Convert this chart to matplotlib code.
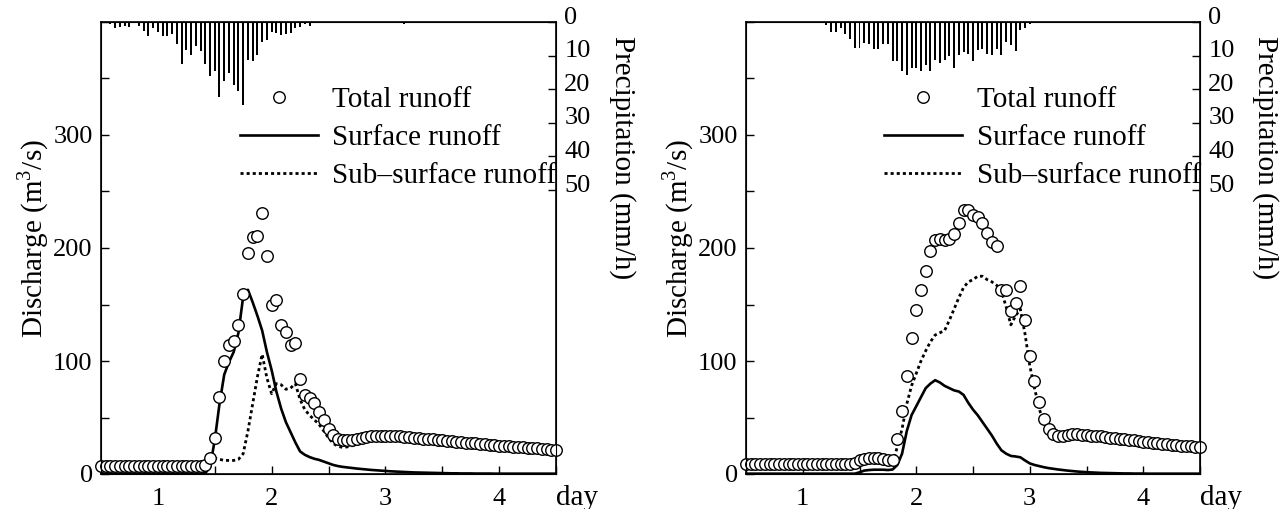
"""Two-event runoff separation plot: total runoff (circles), surface and
sub-surface runoff (lines), hourly rainfall hanging from the top axis."""
import matplotlib
matplotlib.use("Agg")
import matplotlib.pyplot as plt
import matplotlib.transforms as mtransforms
from matplotlib.lines import Line2D
from matplotlib.ticker import MultipleLocator
import numpy as np

plt.rcParams["font.family"] = ["Liberation Serif", "DejaVu Serif"]
plt.rcParams["mathtext.fontset"] = "custom"
plt.rcParams["mathtext.rm"] = "Liberation Serif"
FS_TICK = 19
FS_TEXT = 21

# hourly time axis (hours from start of day 0)
hours = np.arange(12, 109)

# ---- event A (left panel) ----
total_a = ([7.5] * 22 +
           [8, 14, 32, 68, 100, 114, 118, 132, 159, 196, 210, 211, 231, 193,
            150, 154, 132, 126, 114, 116, 84, 70, 67.5, 62.5, 55, 48, 40, 34.5] +
           [31, 30, 30, 30.5, 31, 32, 33, 33.5, 34, 34,
            34, 34, 33.7, 33.3, 33, 32.6, 32.2, 31.8, 31.4, 31,
            30.6, 30.2, 29.8, 29.4, 29, 28.6, 28.2, 27.8, 27.4, 27,
            26.6, 26.2, 25.9, 25.6, 25.2, 24.8, 24.5, 24.2, 23.9, 23.6,
            23.3, 23.0, 22.6, 22.2, 21.8, 21.4, 21.0])
surface_a = ([0.3] * 22 +
             [0.8, 6, 30, 62, 88, 99, 108, 125, 157, 163, 152, 140, 127, 108,
              92, 73, 58, 46, 37, 28, 20, 17, 15, 13.5, 12.5, 11, 9.5, 8] +
             [7, 6.3, 5.8, 5.3, 4.8, 4.4, 4, 3.6, 3.3, 3,
              2.7, 2.4, 2.2, 2, 1.8, 1.6, 1.4, 1.3, 1.2, 1.1,
              1, 0.9, 0.8, 0.7, 0.6, 0.6, 0.5, 0.5, 0.5, 0.4,
              0.4, 0.4, 0.4] + [0.3] * 14)
sub_a = ([7.2] * 23 +
         [9, 14, 13, 12, 12, 12, 13, 18, 38, 62, 86, 106, 85, 71,
          80, 79, 75, 76, 80, 66, 57, 52, 48, 44, 38, 32, 27] +
         [24.5, 23.5, 24, 25, 26.5, 28, 29.5, 30.5, 31, 31.3,
          31.5, 31.3, 31.3, 31, 30.7, 30.4, 30.1, 29.7, 29.3, 28.9,
          28.8, 28.5, 28.2, 27.9, 27.6, 27.2, 26.9, 26.5, 26.1, 25.8,
          25.5, 25.2, 24.8, 24.5, 24.2, 23.9, 23.6, 23.3, 23, 22.7,
          22.4, 22.1, 21.8, 21.5, 21.2, 20.9, 20.7])
rain_hours_a = list(range(13, 57)) + [76]
rain_a = [0.3, 0.7, 1.7, 1.4, 1.1, 1.4, 0.2, 1.1, 2.6, 4.1, 1.7, 3.1, 4.1, 4.3,
          3.5, 6.5, 12.5, 8.3, 9.8, 7.2, 8.7, 12.6, 16.1, 14.6, 22.3, 17.5,
          15.1, 18.6, 20.6, 24.6, 11.2, 11.6, 9.9, 5.9, 5.4, 3.1, 3.4, 3.9,
          3.5, 3.4, 1.9, 1.4, 0.7, 1.2, 0.5]

# ---- event B (right panel) ----
total_b = ([8.5] * 22 +
           [9, 10, 12, 13, 14, 14, 14, 13, 12.5, 12.5, 31, 56, 87, 120, 145,
            163, 180, 197, 207, 208, 207, 208, 212, 222, 234, 234, 229, 227,
            222, 213, 205, 202, 163, 163, 144, 151, 166, 136, 104, 82, 64, 49,
            40, 35, 33.5] +
           [34, 34.5, 35, 35, 34.8, 34.5, 34, 33.6, 33.2, 32.7,
            32.2, 31.7, 31.2, 30.7, 30.2, 29.7, 29.2, 28.7, 28.2, 27.7,
            27.2, 26.8, 26.4, 26, 25.6, 25.2, 24.8, 24.4, 24, 23.6])
surface_b = ([0.3] * 24 +
             [1.5, 3, 3.5, 3.8, 3.8, 3.8, 3.5, 4, 8, 18, 38, 52, 60, 68, 76,
              80, 83, 81, 78, 76, 74, 73, 70, 63, 57, 52, 46, 40, 34, 27, 21,
              18, 16, 15.5, 14.8, 12, 9.4, 8, 7, 6, 5.2, 4.6, 4, 3.5, 3, 2.6,
              2.2, 1.9] +
             [1.6, 1.4, 1.2, 1, 0.9, 0.8, 0.7, 0.6, 0.5, 0.5, 0.4, 0.4, 0.4] +
             [0.3] * 12)
sub_b = ([8.2] * 24 +
         [9, 9.5, 10, 10, 10, 9.5, 9, 10, 24, 40, 62, 78, 89, 100, 109, 117,
          123, 125, 127, 136, 146, 156, 165, 170, 172, 175, 175, 172, 170,
          167, 162, 148, 132, 140, 146, 124, 96, 76, 58, 44, 35, 31, 30,
          30.5, 31.5, 32.4, 32.8, 32.9] +
         [32.9, 32.6, 32.2, 31.8, 31.3, 30.9, 30.5, 30.1, 29.7, 29.2,
          28.8, 28.3, 27.8, 27.4, 26.9, 26.5, 26.1, 25.7, 25.3, 24.9,
          24.5, 24.1, 23.7, 23.3, 23.1])
rain_hours_b = list(range(29, 73))
rain_b = [0.9, 3.1, 3.1, 1.9, 3.6, 5.1, 7.7, 7.7, 6.2, 6.4,
          7.9, 7.9, 6.4, 6.4, 11.6, 11.6, 14.5, 15.8, 13.8, 13.8,
          14.5, 12.8, 14.6, 11.3, 12.3, 11.3, 10.1, 13.8, 9.8, 8.9,
          9.4, 11.6, 8.4, 7.9, 9.4, 9.8, 8.1, 9.8, 6.1, 6.9,
          8.6, 2.4, 1.7, 0.6]

rain_ticks = [0, 10, 20, 30, 40, 50]
q_ticks = [0, 100, 200, 300]
MS = 8.3


def panel(fig, ax, total, surface, sub, rain_hours, rain):
    days = hours / 24
    ax.plot(days, surface, color="k", lw=1.9, zorder=2)
    ax.plot(days, sub, color="k", lw=2.0, ls=(0, (1.1, 1.1)), zorder=2)
    ax.plot(days, total, "o", ms=MS, mfc="white", mec="k", mew=1.0,
            zorder=3, clip_on=False)
    ax.set_xlim(0.5, 4.5)
    ax.set_ylim(0, 400)
    ax.set_xticks([1, 2, 3, 4])
    ax.xaxis.set_minor_locator(MultipleLocator(0.5))
    ax.set_yticks(q_ticks)
    ax.yaxis.set_minor_locator(MultipleLocator(50))
    ax.tick_params(which="both", direction="in", length=6, width=1,
                   labelsize=FS_TICK, top=False, right=False)
    ax.tick_params(axis="x", pad=10)
    ax.tick_params(axis="y", pad=6)
    for s in ax.spines.values():
        s.set_linewidth(1.2)
    ax.text(-0.149, 0.52, "Discharge (m$^\\mathregular{3}$/s)", rotation=90,
            ha="center", va="center", fontsize=FS_TEXT, transform=ax.transAxes)
    ax.text(1.047, -0.053, "day", ha="center", va="center", fontsize=FS_TEXT,
            transform=ax.transAxes)

    ax2 = ax.twinx()
    ax2.bar(np.array(rain_hours) / 24, rain, width=0.42 / 24, color="k",
            linewidth=0)
    ax2.set_ylim(134.5, 0)
    ax2.set_yticks(rain_ticks)
    ax2.tick_params(direction="in", length=6, width=1, labelsize=FS_TICK, pad=6)
    shift = mtransforms.ScaledTranslation(0, 7 / 100, fig.dpi_scale_trans)
    for lab in ax2.get_yticklabels():
        lab.set_transform(lab.get_transform() + shift)
    ax2.text(1.145, 0.70, "Precipitation (mm/h)", rotation=270,
             ha="center", va="center", fontsize=FS_TEXT, transform=ax.transAxes)

    handles = [
        Line2D([], [], ls="none", marker="o", ms=MS, mfc="white", mec="k", mew=1.0),
        Line2D([], [], color="k", lw=1.9),
        Line2D([], [], color="k", lw=2.0, ls=(0, (1.1, 1.1))),
    ]
    ax.legend(handles, ["Total runoff", "Surface runoff", "Sub\u2013surface runoff"],
              loc="upper left", bbox_to_anchor=(0.305, 0.857), frameon=False,
              borderaxespad=0, borderpad=0, handlelength=2.67,
              handletextpad=0.5, labelspacing=0.4, fontsize=FS_TEXT)


fig = plt.figure(figsize=(12.86, 5.09), dpi=100)
ax_a = fig.add_axes([101 / 1286, 35 / 509, 455 / 1286, 452 / 509])
ax_b = fig.add_axes([746 / 1286, 35 / 509, 454 / 1286, 452 / 509])
panel(fig, ax_a, total_a, surface_a, sub_a, rain_hours_a, rain_a)
panel(fig, ax_b, total_b, surface_b, sub_b, rain_hours_b, rain_b)

fig.savefig("out.png", dpi=100, facecolor="white")
